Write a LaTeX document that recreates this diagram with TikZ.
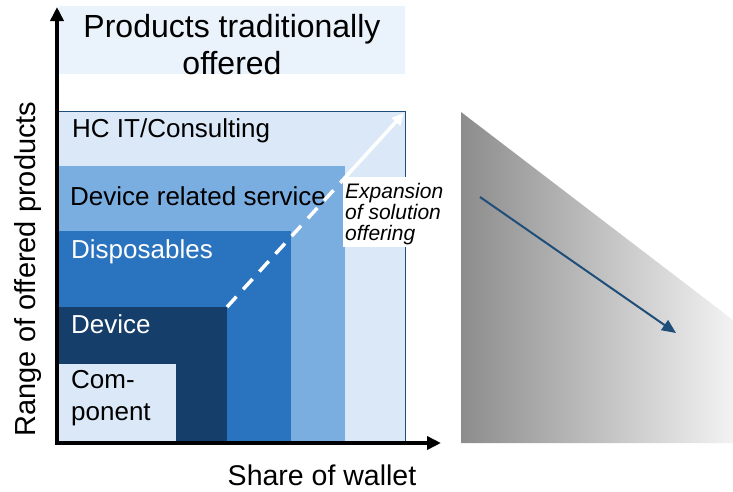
\documentclass[tikz,border=0pt]{standalone}
\usepackage{fontspec}
\setmainfont{Liberation Sans}
\usetikzlibrary{arrows.meta}
\definecolor{bandblue}{HTML}{EAF2FB}
\definecolor{lightblue}{HTML}{DAE8F7}
\definecolor{midlight}{HTML}{7AADE0}
\definecolor{midblue}{HTML}{2A73BE}
\definecolor{navy}{HTML}{163E6A}
\definecolor{edgeblue}{HTML}{1F4E79}
\tikzset{
  boxlabel/.style={anchor=base west, inner sep=0pt, font=\fontsize{26}{31}\selectfont},
  axislabel/.style={inner sep=0pt},
  axisline/.style={line width=3.8pt, -{Triangle[length=14pt,width=13pt]}},
}
\begin{document}
\begin{tikzpicture}[x=1pt,y=-1pt]
\useasboundingbox (0,0) rectangle (733,491);
% title band
\fill[bandblue] (59,6) rectangle (405,74);
\node[axislabel, align=center, font=\fontsize{32}{37}\selectfont] (title) at (232,45) {Products traditionally\\offered};
% boxes
\fill[lightblue, draw=edgeblue, line width=1pt] (58,111) rectangle (405,443);
\fill[midlight] (58,166) rectangle (345,443);
\fill[midblue] (58,231) rectangle (291,443);
\fill[navy] (58,307) rectangle (227,443);
\fill[lightblue] (58,364) rectangle (176,443);
\node[boxlabel, text=black] (hc) at (72,137) {HC IT/Consulting};
\node[boxlabel, text=black] (drs) at (70,205) {Device related service};
\node[boxlabel, text=white] (disp) at (71,258) {Disposables};
\node[boxlabel, text=white] (dev) at (71,333) {Device};
\node[boxlabel, text=black] (comp1) at (71,388) {Com-};
\node[boxlabel, text=black] (comp2) at (71,420) {ponent};
% expansion arrow
\coordinate (s) at (227,307);
\coordinate (m) at (341,182);
\coordinate (e) at (404,113);
\draw[white, line width=3.5pt, dash pattern=on 14pt off 10pt] (s) -- (m);
\draw[white, line width=3.5pt, -{Triangle[length=12pt,width=11pt]}] (m) -- (e);
\fill[white] (343,177) rectangle (446,247);
\node[anchor=base west, inner sep=0pt, align=left, font=\fontsize{21}{21}\selectfont\itshape] (exp) at (345,240) {Expansion\\of solution\\offering};
% axes
\coordinate (o) at (57,443);
\coordinate (ytip) at (57,7);
\coordinate (xtip) at (441,443);
\draw[axisline] ([yshift=1.9pt]o) -- (ytip);
\draw[axisline] ([xshift=-1.9pt]o) -- (xtip);
\node[axislabel, rotate=90, anchor=base, font=\fontsize{29}{33}\selectfont] (ylab) at (35,269) {Range of offered products};
\node[axislabel, anchor=base, font=\fontsize{28.5}{33}\selectfont] (xlab) at (322,485) {Share of wallet};
% right gradient shape
\shade[left color=black!45, right color=black!5] (461,112) -- (733,320) -- (733,443) -- (461,443) -- cycle;
\coordinate (a1) at (480,197);
\coordinate (a2) at (676,333);
\draw[edgeblue, line width=2pt, -{Triangle[length=14pt,width=12pt]}] (a1) -- (a2);
\end{tikzpicture}
\end{document}
